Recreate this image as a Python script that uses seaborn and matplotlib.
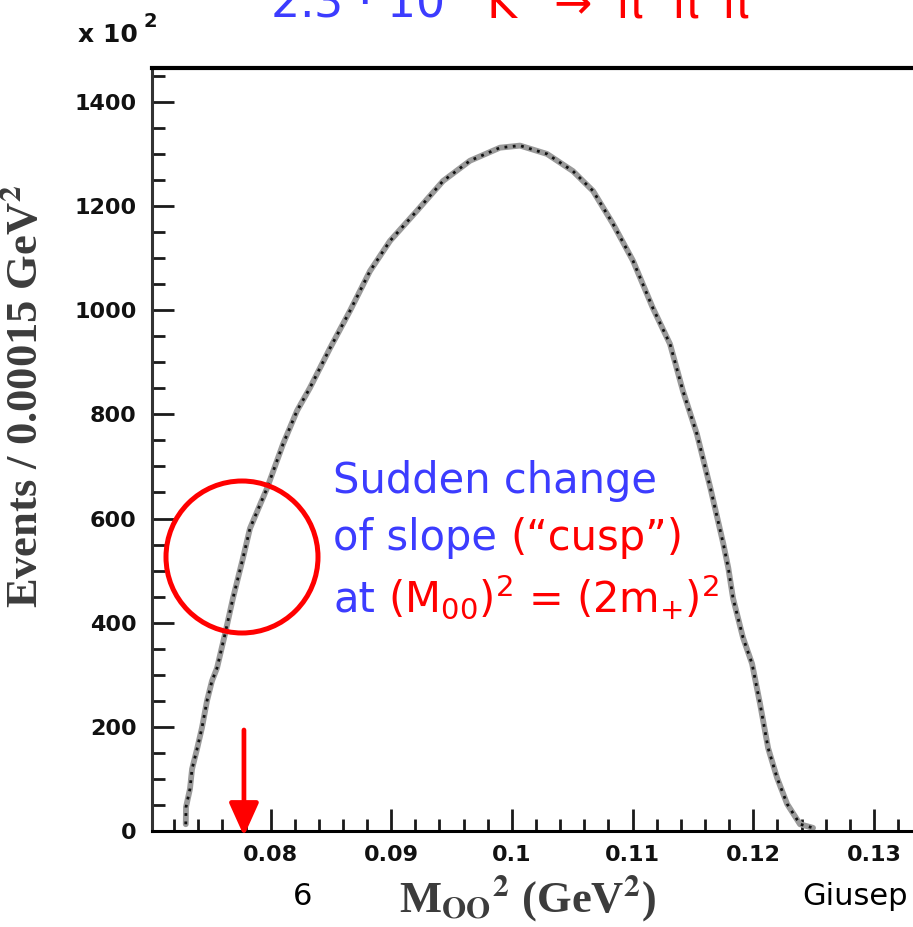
import matplotlib
matplotlib.use("Agg")
import matplotlib.pyplot as plt
import matplotlib.ticker as mticker
from matplotlib.patches import Ellipse
import numpy as np
import pandas as pd
import seaborn as sns

# ---------------- data ----------------
m2_gev2 = [0.07298, 0.07300, 0.07333, 0.07350, 0.07391, 0.07432, 0.07474, 0.07515,
           0.07557, 0.07623, 0.07689, 0.07772, 0.07830, 0.07971, 0.08104, 0.08220,
           0.08327, 0.08493, 0.08659, 0.08824, 0.08990, 0.09214, 0.09429, 0.09653,
           0.09901, 0.10067, 0.10291, 0.10506, 0.10672, 0.10837, 0.11003, 0.11168,
           0.11310, 0.11417, 0.11533, 0.11644, 0.11752, 0.11793, 0.11832, 0.11915,
           0.11990, 0.12056, 0.12123, 0.12197, 0.12280, 0.12387, 0.12495]
events = [13, 46, 81, 119, 157, 198, 250, 288,
          313, 378, 447, 524, 581, 658, 743, 807,
          851, 927, 999, 1075, 1133, 1191, 1248, 1287,
          1312, 1316, 1300, 1267, 1229, 1166, 1095, 1004,
          935, 845, 762, 659, 551, 505, 447, 371,
          321, 244, 159, 102, 52, 13, 6]

x_ticks = [0.08, 0.09, 0.10, 0.11, 0.12, 0.13]
x_tick_labels = ["0.08", "0.09", "0.1", "0.11", "0.12", "0.13"]
y_ticks = [0, 200, 400, 600, 800, 1000, 1200, 1400]
y_tick_labels = ["0", "200", "400", "600", "800", "1000", "1200", "1400"]
cusp_m2 = 0.0778

title_blue = r"2.3 $\cdot$ 10$^{7}$"
title_red = r"K$^{\pm}$$\rightarrow$ π$^{\pm}$π$^{0}$π$^{0}$"
note_lines = [
    [("Sudden change", "blue")],
    [("of slope", "blue"), ("(\u201ccusp\u201d)", "red")],
    [("at", "blue"), (r"(M$_{00}$)$^{2}$ = (2m$_{+}$)$^{2}$", "red")],
]

BLUE = "#3c3cff"
RED = "#ff0000"

# ---------------- figure ----------------
sns.set_theme(style="white")
plt.rcParams["font.family"] = ["DejaVu Sans"]

W, H = 913, 927
fig = plt.figure(figsize=(W / 100, H / 100), dpi=100)
ax = fig.add_axes([152 / W, 1 - 831 / H, 1 - 152 / W, (831 - 68) / H])

df = pd.DataFrame({"m2": m2_gev2, "events": events})
sns.lineplot(data=df, x="m2", y="events", ax=ax, color="#9a9a9a", lw=4.2, sort=True)
sns.lineplot(data=df, x="m2", y="events", ax=ax, color="#111111", lw=2.0,
             linestyle=(0, (1, 2.0)), sort=True)

px_per_unit = 12070.0
ax.set_xlim(0.08 - (270.5 - 152) / px_per_unit, 0.08 + (913 - 270.5) / px_per_unit)
ax.set_ylim(0, 1465)

ax.set_xticks(x_ticks)
ax.set_xticklabels(x_tick_labels, fontsize=16, fontweight="bold", color="#111111")
ax.set_yticks(y_ticks)
ax.set_yticklabels(y_tick_labels, fontsize=16, fontweight="bold", color="#111111")
ax.xaxis.set_minor_locator(mticker.MultipleLocator(0.002))
ax.yaxis.set_minor_locator(mticker.MultipleLocator(50))
ax.tick_params(axis="both", which="both", direction="in", color="#1a1a1a",
               top=False, right=False, bottom=True, left=True)
ax.tick_params(axis="both", which="major", length=16, width=2.0)
ax.tick_params(axis="both", which="minor", length=9, width=2.0)
ax.tick_params(axis="x", which="major", pad=10)
ax.tick_params(axis="y", which="major", pad=11)
ax.set_xlabel("")
ax.set_ylabel("")

ax.spines["right"].set_visible(False)
ax.spines["top"].set_linewidth(3.0)
ax.spines["top"].set_color("black")
ax.spines["bottom"].set_linewidth(2.2)
ax.spines["bottom"].set_color("black")
ax.spines["left"].set_linewidth(2.2)
ax.spines["left"].set_color("#333333")

# cusp arrow
y_tail = (831 - 730) / 0.5207
y_tip = (831 - 836) / 0.5207
ax.annotate("", xy=(cusp_m2, y_tip), xytext=(cusp_m2, y_tail),
            arrowprops=dict(arrowstyle="-|>,head_length=1.0,head_width=0.45",
                            color=RED, lw=3.4, mutation_scale=20,
                            shrinkA=0, shrinkB=0),
            annotation_clip=False, zorder=10)

# circle around cusp
circ = Ellipse((242 / W, 1 - 557 / H), width=2 * 76 / W, height=2 * 76 / H,
               transform=fig.transFigure, fill=False, ec=RED, lw=3.6)
fig.add_artist(circ)

renderer = fig.canvas.get_renderer()


def draw_pieces(x_px, y_px, pieces, size, gap_em=0.32, **kw):
    x = x_px
    for i, (s, c) in enumerate(pieces):
        if i > 0:
            x += gap_em * size * 100 / 72
        col = BLUE if c == "blue" else RED
        t = fig.text(x / W, 1 - y_px / H, s, color=col, fontsize=size,
                     ha="left", va="baseline", math_fontfamily="dejavusans", **kw)
        bb = t.get_window_extent(renderer)
        x = bb.x1


# title (cut by the top edge, as in the reference)
draw_pieces(270, 17, [(title_blue, "blue"), (title_red, "red")], 33, gap_em=0.45)

# annotation text
for line, y in zip(note_lines, [493, 550, 612]):
    draw_pieces(333, y, line, 30)

# axis-scale marker
fig.text(78 / W, 1 - 42 / H, "x 10", fontsize=18, fontweight="bold", color="#111111",
         ha="left", va="baseline")
fig.text(143 / W, 1 - 27 / H, "2", fontsize=14, fontweight="bold", color="#111111",
         ha="left", va="baseline")

# axis labels
fig.text(26 / W, 1 - 396 / H, r"Events / 0.00015 GeV$^{\mathbf{2}}$", rotation=90,
         ha="center", va="center", fontsize=32, fontweight="bold",
         family="Liberation Serif", math_fontfamily="stix", color="#3c3c3c")
fig.text(527 / W, 1 - 913 / H, r"M$_{\mathbf{OO}}{}^{\mathbf{2}}$ (GeV$^{\mathbf{2}}$)",
         ha="center", va="baseline", fontsize=32, fontweight="bold",
         family="Liberation Serif", math_fontfamily="stix", color="#3c3c3c")

# slide footer texts
fig.text(293 / W, 1 - 905 / H, "6", fontsize=22, color="black", ha="left", va="baseline")
fig.text(802 / W, 1 - 905 / H, "Giusep", fontsize=22, color="black", ha="left",
         va="baseline")

fig.savefig("out.png", dpi=100)
